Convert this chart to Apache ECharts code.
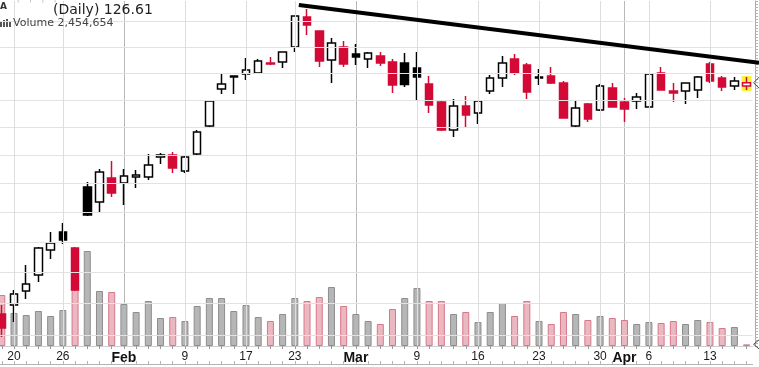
<!DOCTYPE html>
<html>
<head>
<meta charset="utf-8">
<script src="https://cdn.jsdelivr.net/npm/echarts@6/dist/echarts.min.js"></script>
<style>
  html, body { margin: 0; padding: 0; background: #fff; }
  #chart { width: 759px; height: 367px; }
</style>
</head>
<body>
<div id="chart"></div>
<script>
// daily bars
const dates = [
  '2015-01-16', '2015-01-20', '2015-01-21', '2015-01-22', '2015-01-23', '2015-01-26', '2015-01-27', '2015-01-28', '2015-01-29', '2015-01-30',
  '2015-02-02', '2015-02-03', '2015-02-04', '2015-02-05', '2015-02-06', '2015-02-09', '2015-02-10', '2015-02-11', '2015-02-12', '2015-02-13',
  '2015-02-17', '2015-02-18', '2015-02-19', '2015-02-20', '2015-02-23', '2015-02-24', '2015-02-25', '2015-02-26', '2015-02-27',
  '2015-03-02', '2015-03-03', '2015-03-04', '2015-03-05', '2015-03-06', '2015-03-09', '2015-03-10', '2015-03-11', '2015-03-12', '2015-03-13',
  '2015-03-16', '2015-03-17', '2015-03-18', '2015-03-19', '2015-03-20', '2015-03-23', '2015-03-24', '2015-03-25', '2015-03-26', '2015-03-27',
  '2015-03-30', '2015-03-31', '2015-04-01', '2015-04-02', '2015-04-06', '2015-04-07', '2015-04-08', '2015-04-09', '2015-04-10',
  '2015-04-13', '2015-04-14', '2015-04-15', '2015-04-16'
]
const opens = [
  106.66, 107.37, 108.49, 109.79, 111.84, 113.34, 112.01, 117.19, 115.90, 117.98,
  117.54, 118.06, 118.06, 119.83, 120.00, 118.59, 120.09, 122.61, 126.02, 127.15,
  127.43, 127.53, 128.48, 128.57, 130.01, 132.94, 131.56, 128.76, 130.01,
  129.34, 128.86, 129.14, 128.57, 128.48, 128.00, 126.49, 124.82, 122.25, 124.45,
  123.80, 125.84, 127.06, 128.86, 128.29, 127.06, 127.25, 126.59, 122.61, 124.63,
  124.08, 126.12, 124.82, 124.91, 124.36, 127.53, 125.84, 125.84, 125.93,
  128.38, 127.06, 126.31, 126.31
]
const closes = [
  105.56, 108.25, 109.06, 112.01, 112.43, 112.68, 108.57, 114.79, 118.50, 116.67,
  118.15, 118.24, 119.12, 120.00, 118.86, 119.83, 122.07, 124.91, 126.49, 127.25,
  127.81, 128.66, 128.39, 129.53, 133.04, 132.15, 128.66, 130.40, 128.38,
  129.05, 129.43, 128.48, 126.40, 126.45, 127.15, 124.54, 122.25, 124.45, 123.62,
  124.91, 127.06, 128.48, 127.53, 125.74, 127.15, 126.59, 123.34, 124.26, 123.25,
  126.31, 124.36, 124.17, 125.28, 127.43, 125.93, 125.65, 126.59, 127.15,
  126.78, 126.21, 126.78, 126.61
]
const lows = [
  104.85, 106.03, 107.85, 109.22, 111.10, 112.34, 108.49, 114.70, 115.04, 116.33,
  115.64, 117.10, 117.80, 119.21, 118.42, 118.42, 120.00, 122.43, 125.56, 125.56,
  126.87, 127.43, 128.29, 128.00, 129.53, 131.18, 128.09, 126.59, 128.09,
  128.29, 128.00, 128.19, 125.65, 126.21, 125.00, 123.80, 122.16, 121.62, 122.52,
  122.79, 125.56, 126.21, 127.34, 125.09, 126.40, 126.49, 123.30, 122.52, 122.98,
  123.99, 124.31, 122.98, 124.17, 124.31, 125.88, 124.82, 124.63, 125.19,
  126.59, 125.84, 125.93, 125.93
]
const highs = [
  107.37, 108.57, 110.61, 112.09, 113.34, 114.11, 112.09, 117.63, 118.77, 119.47,
  118.77, 118.68, 120.09, 120.18, 120.27, 119.92, 122.25, 125.00, 127.53, 127.27,
  128.95, 128.86, 129.05, 129.58, 133.09, 133.73, 131.61, 130.88, 130.59,
  130.30, 129.53, 129.53, 128.86, 129.43, 129.53, 127.25, 124.91, 125.09, 125.37,
  124.95, 127.34, 129.14, 129.34, 128.48, 127.91, 128.10, 126.78, 124.91, 124.72,
  126.49, 126.59, 125.19, 125.65, 127.53, 128.10, 126.59, 126.64, 127.25,
  128.57, 127.25, 127.15, 127.15
]
// volume in millions of shares
const volumes = [
  76.5, 49.5, 46.5, 52.5, 45, 54, 91.5, 142.5, 82.5, 81,
  63, 51, 67.5, 42, 43.5, 37.5, 60, 72, 72, 52.5,
  61.5, 43.5, 37.5, 48, 72, 67.5, 73.5, 88.5, 60,
  48, 37.5, 33, 55.5, 72, 87, 67.5, 67.5, 48, 51,
  36, 51, 64.5, 45, 67.5, 37.5, 33, 51, 48, 39,
  45, 42, 39, 33, 36, 34.5, 37.5, 33, 39,
  36, 27, 28.5, 2.454654
]
const closeBeforeStart = 106.5

const tickDates = ['2015-01-20', '2015-01-26', '2015-02-02', '2015-02-09', '2015-02-17', '2015-02-23', '2015-03-02',
  '2015-03-09', '2015-03-16', '2015-03-23', '2015-03-30', '2015-04-01', '2015-04-06', '2015-04-13']
const tickLabels = ['20', '26', 'Feb', '9', '17', '23', 'Mar', '9', '16', '23', '30', 'Apr', '6', '13']
const monthLabels = ['Feb', 'Mar', 'Apr']
const priceGridLevels = [105, 107.5, 110, 112.5, 115, 117.5, 120, 122.5, 125, 127.5, 130, 132.5]
const trendLine = [['2015-02-23', 134.17], ['2015-04-16', 128.64]]

const RED = '#d20a35'
const priceMin = 104.16
const priceMax = 134.52

const chart = echarts.init(document.getElementById('chart'))

const tickIndex = new Map(tickDates.map((d, i) => [d, i]))
const isMonthTick = (d) => tickIndex.has(d) && monthLabels.includes(tickLabels[tickIndex.get(d)])

// stockcharts style: hollow = close above open, red = close below previous close
const upDay = closes.map((c, i) => c >= (i === 0 ? closeBeforeStart : closes[i - 1]))

const candleData = dates.map((d, i) => {
  const ink = upDay[i] ? '#000' : RED
  const fill = closes[i] > opens[i] ? '#fff' : ink
  return {
    value: [opens[i], closes[i], lows[i], highs[i]],
    itemStyle: { color: fill, color0: fill, borderColor: ink, borderColor0: ink },
  }
})

const volumeData = volumes.map((v, i) => ({
  value: v,
  itemStyle: upDay[i]
    ? { color: '#b6b6b6', borderColor: '#8e8e8e', borderWidth: 1 }
    : { color: '#e9b8c1', borderColor: '#d77789', borderWidth: 1 },
}))

// background grid: price levels plus weekly day lines
const gridLines = [
  ...priceGridLevels.map((v) => ({ yAxis: v })),
  ...tickDates.filter((d) => !isMonthTick(d)).map((d) => ({ xAxis: d, lineStyle: { color: '#dddddd' } })),
]

const plotRect = { left: -4.3, right: 6.3, top: 1, bottom: 21, outerBoundsMode: 'none' }

chart.setOption({
  animation: false,
  grid: [{ ...plotRect }, { ...plotRect }],
  xAxis: [
    {
      gridIndex: 0,
      type: 'category',
      data: dates,
      axisLine: { show: true, lineStyle: { color: '#9a9a9a' } },
      axisTick: { show: true, interval: 0, alignWithLabel: true, length: 3, lineStyle: { color: '#9a9a9a' } },
      axisLabel: {
        interval: (i, v) => tickIndex.has(v),
        formatter: (v) => {
          const label = tickLabels[tickIndex.get(v)]
          return isMonthTick(v) ? `{m|${label}}` : `{d|${label}}`
        },
        margin: 5,
        rich: {
          d: { fontFamily: 'Liberation Sans', fontSize: 12, color: '#1a1a1a' },
          m: { fontFamily: 'Liberation Sans', fontSize: 14, fontWeight: 'bold', color: '#111' },
        },
      },
      splitLine: { show: false },
    },
    {
      gridIndex: 0,
      type: 'category',
      data: dates,
      position: 'bottom',
      offset: 18,
      axisLine: { show: true, lineStyle: { color: '#b4b4b4' } },
      axisTick: { show: true, interval: 0, alignWithLabel: true, inside: true, length: 3, lineStyle: { color: '#b4b4b4' } },
      axisLabel: { show: false },
      splitLine: { show: false },
    },
    {
      gridIndex: 1,
      type: 'category',
      data: dates,
      position: 'top',
      axisLine: { show: true, lineStyle: { color: '#cfcfcf' } },
      axisTick: { show: false },
      axisLabel: { show: false },
      splitLine: { show: true, interval: (i, v) => isMonthTick(v), alignWithLabel: true, lineStyle: { color: '#b9b9b9' } },
    },
  ],
  yAxis: [
    { gridIndex: 0, type: 'log', logBase: 10, min: priceMin, max: priceMax, show: false },
    {
      gridIndex: 1,
      type: 'value',
      min: 0,
      max: 517.5,
      interval: 4.5,
      position: 'right',
      offset: 2.3,
      axisLine: { show: true, lineStyle: { color: '#a8a8a8' } },
      axisTick: { show: true, length: 3, lineStyle: { color: '#b4b4b4' } },
      axisLabel: { show: false },
      splitLine: { show: false },
    },
  ],
  series: [
    {
      name: 'grid',
      type: 'line',
      xAxisIndex: 0,
      yAxisIndex: 0,
      data: [],
      z: 1,
      silent: true,
      markLine: {
        silent: true,
        symbol: ['none', 'none'],
        label: { show: false },
        lineStyle: { color: '#e2e2e2', type: 'solid', width: 1 },
        data: gridLines,
      },
    },
    {
      name: 'Volume',
      type: 'bar',
      xAxisIndex: 2,
      yAxisIndex: 1,
      barWidth: 7,
      z: 2,
      silent: true,
      data: volumeData,
    },
    {
      name: 'Price',
      type: 'candlestick',
      xAxisIndex: 0,
      yAxisIndex: 0,
      barWidth: 8,
      z: 3,
      itemStyle: { borderWidth: 1.5 },
      data: candleData,
    },
  ],
})

const last = dates.length - 1
const px = (d, v) => chart.convertToPixel({ xAxisIndex: 0, yAxisIndex: 0 }, [d, v])
const pxVol = (d, v) => chart.convertToPixel({ xAxisIndex: 2, yAxisIndex: 1 }, [d, v])

const t0 = px(trendLine[0][0], trendLine[0][1])
const t1 = px(trendLine[1][0], trendLine[1][1])
const edgeX = chart.getWidth()
const edgeY = t0[1] + (t1[1] - t0[1]) * (edgeX - t0[0]) / (t1[0] - t0[0])

const lastTop = px(dates[last], highs[last])
const lastBottom = px(dates[last], lows[last])
const lastClose = px(dates[last], closes[last])
const lastVol = pxVol(dates[last], volumes[last])
const tipX = lastClose[0] + 7

const volumeText = Math.round(volumes[last] * 1e6).toLocaleString('en-US')

chart.setOption({
  graphic: [
    {
      type: 'rect',
      z: 2.5,
      shape: { x: lastTop[0] - 5, y: lastTop[1] - 1, width: 10, height: lastBottom[1] - lastTop[1] + 2 },
      style: { fill: '#f6f23e' },
      silent: true,
    },
    {
      type: 'line',
      z: 10,
      shape: { x1: t0[0] + 4, y1: t0[1] + (t1[1] - t0[1]) * 4 / (t1[0] - t0[0]), x2: edgeX, y2: edgeY },
      style: { stroke: '#000', lineWidth: 4 },
      silent: true,
    },
    {
      type: 'polyline',
      z: 10,
      shape: { points: [[tipX + 6, lastClose[1] - 6], [tipX, lastClose[1]], [tipX + 6, lastClose[1] + 6]] },
      style: { stroke: '#444', lineWidth: 1, fill: 'none' },
      silent: true,
    },
    {
      type: 'polyline',
      z: 10,
      shape: { points: [[tipX + 6, lastVol[1] - 5], [tipX, lastVol[1]], [tipX + 6, lastVol[1] + 5]] },
      style: { stroke: '#444', lineWidth: 1, fill: 'none' },
      silent: true,
    },
    {
      type: 'text',
      z: 10,
      style: { text: 'A', x: 0, y: 7, font: 'bold 9px "DejaVu Sans"', fill: '#333', verticalAlign: 'middle', textVerticalAlign: 'middle' },
      silent: true,
    },
    {
      type: 'text',
      z: 10,
      style: { text: "'    '    '    '", x: 17, y: 5, font: '8px "DejaVu Sans"', fill: '#b0b0b0', verticalAlign: 'middle', textVerticalAlign: 'middle' },
      silent: true,
    },
    {
      type: 'text',
      z: 10,
      style: { text: `(Daily) ${closes[last].toFixed(2)}`, x: 53, y: 10, font: '14px "DejaVu Sans"', fill: '#222', verticalAlign: 'middle', textVerticalAlign: 'middle' },
      silent: true,
    },
    {
      type: 'group',
      z: 10,
      silent: true,
      children: [
        { type: 'rect', shape: { x: 0, y: 22, width: 2, height: 5 }, style: { fill: '#555' } },
        { type: 'rect', shape: { x: 3, y: 20, width: 2, height: 7 }, style: { fill: '#555' } },
        { type: 'rect', shape: { x: 6, y: 19, width: 2, height: 8 }, style: { fill: '#555' } },
        { type: 'rect', shape: { x: 9, y: 21, width: 2, height: 6 }, style: { fill: '#555' } },
      ],
    },
    {
      type: 'text',
      z: 10,
      style: { text: `Volume ${volumeText}`, x: 13, y: 23, font: '11px "DejaVu Sans"', fill: '#444', verticalAlign: 'middle', textVerticalAlign: 'middle' },
      silent: true,
    },
  ],
})

window.addEventListener('resize', () => chart.resize())
</script>
</body>
</html>
